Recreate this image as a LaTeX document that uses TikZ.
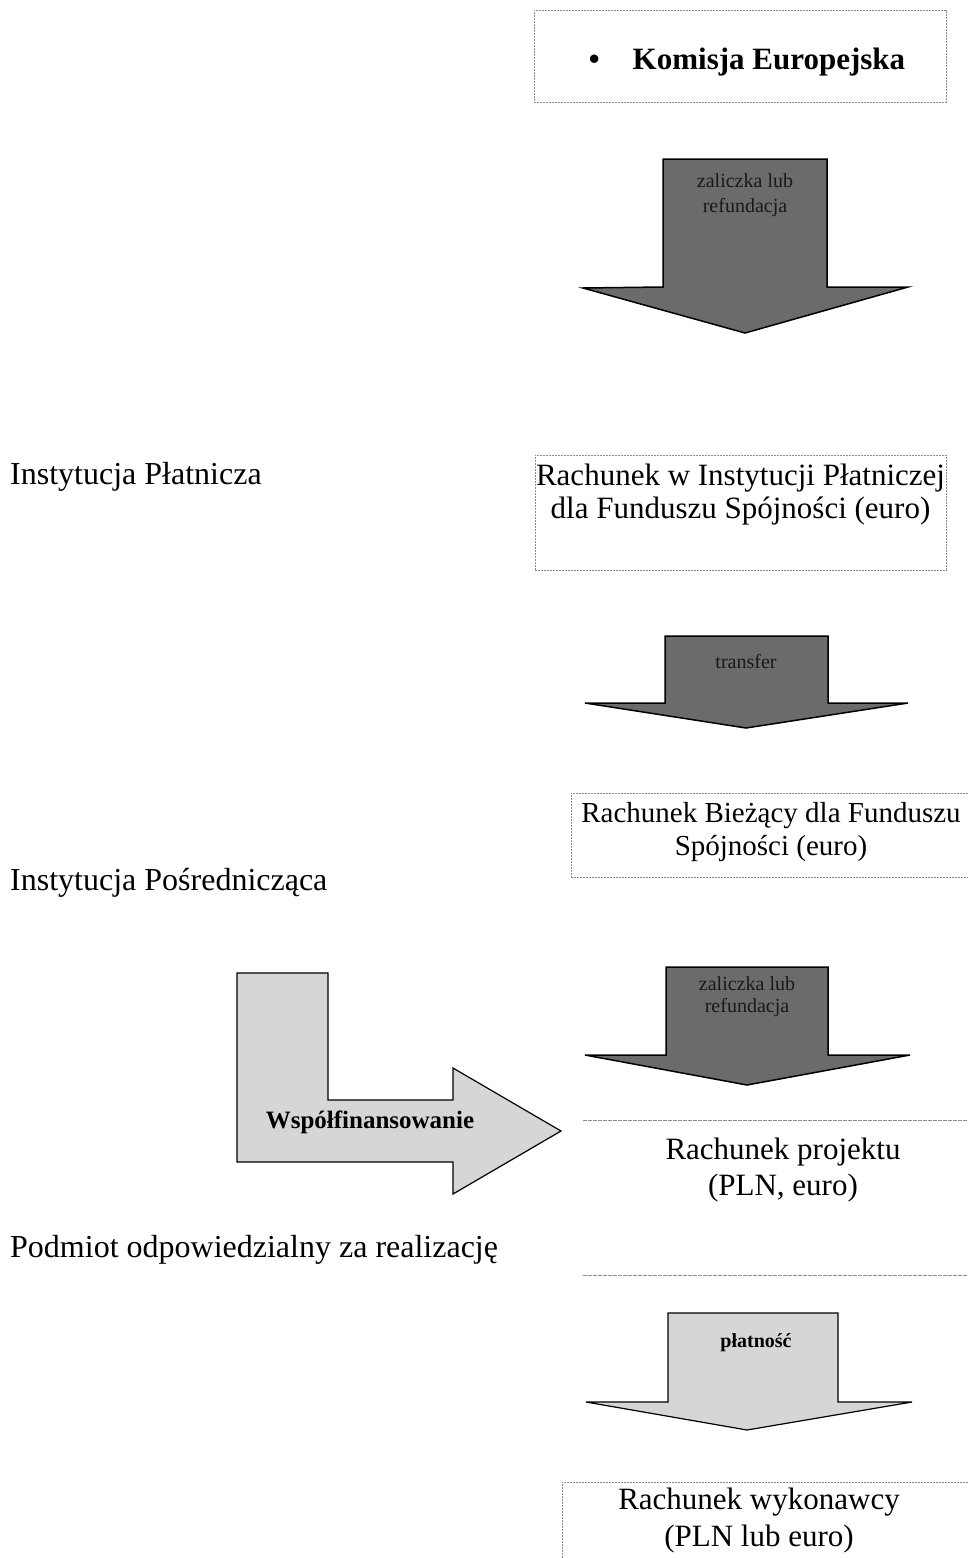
\documentclass[tikz,border=0pt]{standalone}
\usepackage{fontspec}
\setmainfont{Liberation Serif}
\usetikzlibrary{positioning}
\tikzset{
  acct/.style={draw=black!45, dash pattern=on 2pt off 1pt, line width=0.7pt, inner sep=0pt},
  acctline/.style={draw=black!45, dash pattern=on 4pt off 1pt, line width=0.7pt},
  boxtxt/.style={align=center, font=\fontsize{31}{33}\selectfont, inner sep=0pt},
  side/.style={anchor=west, font=\fontsize{32}{34}\selectfont, inner sep=0pt},
  darkflow/.style={draw=black, line width=1.5pt, fill=black!58, line join=miter},
  lightflow/.style={draw=black, line width=1.2pt, fill=black!16, line join=miter},
  flowtxt/.style={align=center, font=\fontsize{20}{22}\selectfont, text=black!90, inner sep=0pt}}

\begin{document}
\begin{tikzpicture}[x=1pt, y=-1pt]
  \useasboundingbox (0,0) rectangle (968,1558);
  % accounts
  \node[acct, minimum width=412, minimum height=92] (kom) at (740,56) {};
  \node[boxtxt, font=\fontsize{31}{33}\selectfont\bfseries] (komtxt) at (747,62) {\textbullet\hspace{33pt}Komisja Europejska};
  \node[acct, minimum width=411, minimum height=115, anchor=north] (ipay) at (740.5,455) {};
  \node[boxtxt] (ipaytxt) at ([yshift=-40]ipay.north) {Rachunek w Instytucji Płatniczej\\dla Funduszu Spójności (euro)};
  \node[acct, minimum width=404, minimum height=84, anchor=north west] (curr) at (571,793) {};
  \node[boxtxt, font=\fontsize{29}{33}\selectfont] (currtxt) at (771,832) {Rachunek Bieżący dla Funduszu\\Spójności (euro)};
  \node[minimum width=390, minimum height=155, anchor=north west, inner sep=0pt] (proj) at (583,1120) {};
  \draw[acctline] (proj.north west) -- (proj.north east);
  \draw[acctline] (proj.south west) -- (proj.south east);
  \node[boxtxt, font=\fontsize{31}{36}\selectfont] (projtxt) at (783,1170) {Rachunek projektu\\(PLN, euro)};
  \node[acct, minimum width=414, minimum height=100, anchor=north west] (wyk) at (562,1482) {};
  \node[boxtxt, font=\fontsize{31}{37}\selectfont] (wyktxt) at (759,1521) {Rachunek wykonawcy\\(PLN lub euro)};
  % institutions
  \node[side] (pay) at (10,477) {Instytucja Płatnicza};
  \node[side] (inter) at (10,883) {Instytucja Pośrednicząca};
  \node[side] (benef) at (10,1250) {Podmiot odpowiedzialny za realizację};
  % money flows
  \draw[darkflow] (663,159) -- (827,159) -- (827,287) -- (908,287) -- (745,333) -- (583,288) -- (663,287) -- cycle;
  \node[flowtxt, font=\fontsize{20}{25}\selectfont] (adv1) at (745,195) {zaliczka lub\\refundacja};
  \draw[darkflow] (665,636) -- (828,636) -- (828,703) -- (908,703) -- (746,728) -- (585,703) -- (665,703) -- cycle;
  \node[flowtxt] (trans) at (746,662) {transfer};
  \draw[darkflow] (666,967) -- (828,967) -- (828,1055) -- (910,1055) -- (747,1085) -- (585,1055) -- (666,1055) -- cycle;
  \node[flowtxt] (adv2) at (747,997) {zaliczka lub\\refundacja};
  \draw[lightflow] (237,973) -- (328,973) -- (328,1100) -- (453,1100) -- (453,1068) -- (561,1131)
    -- (453,1194) -- (453,1162) -- (237,1162) -- cycle;
  \node[flowtxt, font=\fontsize{25}{27}\selectfont\bfseries, text=black] (cofin) at (370,1122) {Współfinansowanie};
  \draw[lightflow] (668,1313) -- (838,1313) -- (838,1402) -- (912,1402) -- (747,1430) -- (586,1402) -- (668,1402) -- cycle;
  \node[flowtxt, font=\fontsize{20}{22}\selectfont\bfseries, text=black] (pay4) at (756,1343) {płatność};
\end{tikzpicture}
\end{document}
